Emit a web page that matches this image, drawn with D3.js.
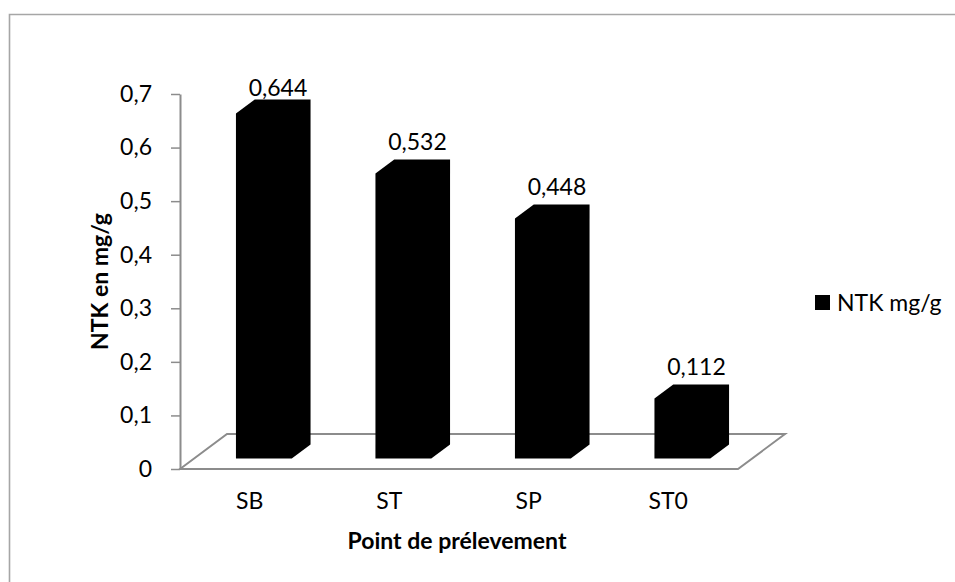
<!DOCTYPE html>
<html>
<head>
<meta charset="utf-8">
<script src="https://cdn.jsdelivr.net/npm/d3@7"></script>
<style>
  html, body { margin: 0; padding: 0; background: #fff; }
  svg { display: block; font-family: Lato, "Open Sans", sans-serif; }
</style>
</head>
<body>
<svg id="chart" width="955" height="582"></svg>
<script>
// NTK content per sampling point
const categories = ["SB", "ST", "SP", "ST0"];
const values = [0.644, 0.532, 0.448, 0.112];
const yTicks = [0, 0.1, 0.2, 0.3, 0.4, 0.5, 0.6, 0.7];
const seriesName = "NTK mg/g";
const yTitle = "NTK en mg/g";
const xTitle = "Point de prélevement";

const svg = d3.select("#chart");
const fmt = v => String(v).replace(".", ",");
const FS = 23;

// Front plane of the plot and depth offset of the floor
const plot = { left: 180, right: 738, top: 94, bottom: 469 };
const depth = { dx: 47, dy: -35 };
const barDepth = [0.3, 0.7]; // bars sit in the middle of the floor depth

const x = d3.scaleBand().domain(categories).range([plot.left, plot.right])
  .paddingInner(0.6).paddingOuter(0.3);
const xCenter = d3.scaleBand().domain(categories).range([plot.left, plot.right]);
const y = d3.scaleLinear().domain([0, 0.7]).range([plot.bottom, plot.top]);

// Outer chart frame
svg.append("path")
  .attr("d", "M9.5,582 L9.5,14.5 L955,14.5")
  .attr("fill", "none").attr("stroke", "#a6a6a6").attr("stroke-width", 1.6);

// Floor
const fl = plot.left, fr = plot.right, fb = plot.bottom;
svg.append("path")
  .attr("d", `M${fl},${fb} L${fl + depth.dx},${fb + depth.dy} L${fr + depth.dx},${fb + depth.dy} L${fr},${fb} Z`)
  .attr("fill", "#fff").attr("stroke", "#8c8c8c").attr("stroke-width", 2);

// Y axis
const yAxis = d3.axisLeft(y).tickValues(yTicks).tickFormat(fmt).tickSizeInner(9).tickSizeOuter(0).tickPadding(19);
const gy = svg.append("g").attr("transform", `translate(${plot.left},0)`).call(yAxis);
gy.select(".domain").attr("stroke", "#8c8c8c").attr("stroke-width", 2);
gy.selectAll(".tick line").attr("stroke", "#8c8c8c").attr("stroke-width", 1.5);
gy.selectAll(".tick text").attr("font-size", FS).attr("fill", "#000")
  .attr("font-family", "Lato, sans-serif");

// Bars (front face, top and side, all solid black)
const bars = svg.append("g");
categories.forEach((c, i) => {
  const v = values[i];
  const h = y(0) - y(v);
  const ox = depth.dx * barDepth[0], oy = depth.dy * barDepth[0];
  const ddx = depth.dx * (barDepth[1] - barDepth[0]);
  const ddy = depth.dy * (barDepth[1] - barDepth[0]);
  const x0 = x(c) + ox, x1 = x0 + x.bandwidth();
  const yb = y(0) + oy, yt = yb - h;
  const pts = [
    [x0, yb], [x0, yt], [x0 + ddx, yt + ddy], [x1 + ddx, yt + ddy],
    [x1 + ddx, yb + ddy], [x1, yb]
  ];
  bars.append("path").attr("d", "M" + pts.join("L") + "Z").attr("fill", "#000");

  // value label above the bar
  const lx = x0 + x.bandwidth() / 2 + depth.dx * 0.3;
  const ly = Math.max(yt - 24, 96);
  svg.append("text").attr("x", lx).attr("y", ly)
    .attr("text-anchor", "middle").attr("font-size", FS).text(fmt(v));
});

// Category labels
svg.append("g").selectAll("text").data(categories).join("text")
  .attr("x", d => xCenter(d) + xCenter.bandwidth() / 2)
  .attr("y", 509)
  .attr("text-anchor", "middle").attr("font-size", FS).text(d => d);

// Axis titles
svg.append("text").attr("x", (plot.left + plot.right) / 2 - 2).attr("y", 549).attr("text-anchor", "middle")
  .attr("font-size", FS).attr("font-weight", "bold").text(xTitle);
svg.append("text").attr("transform", `translate(108,${(plot.top + plot.bottom) / 2}) rotate(-90)`)
  .attr("text-anchor", "middle").attr("font-size", FS).attr("font-weight", "bold").text(yTitle);

// Legend
svg.append("rect").attr("x", 815).attr("y", 295).attr("width", 15).attr("height", 15).attr("fill", "#000");
svg.append("text").attr("x", 837).attr("y", 311).attr("font-size", FS).text(seriesName);
</script>
</body>
</html>
